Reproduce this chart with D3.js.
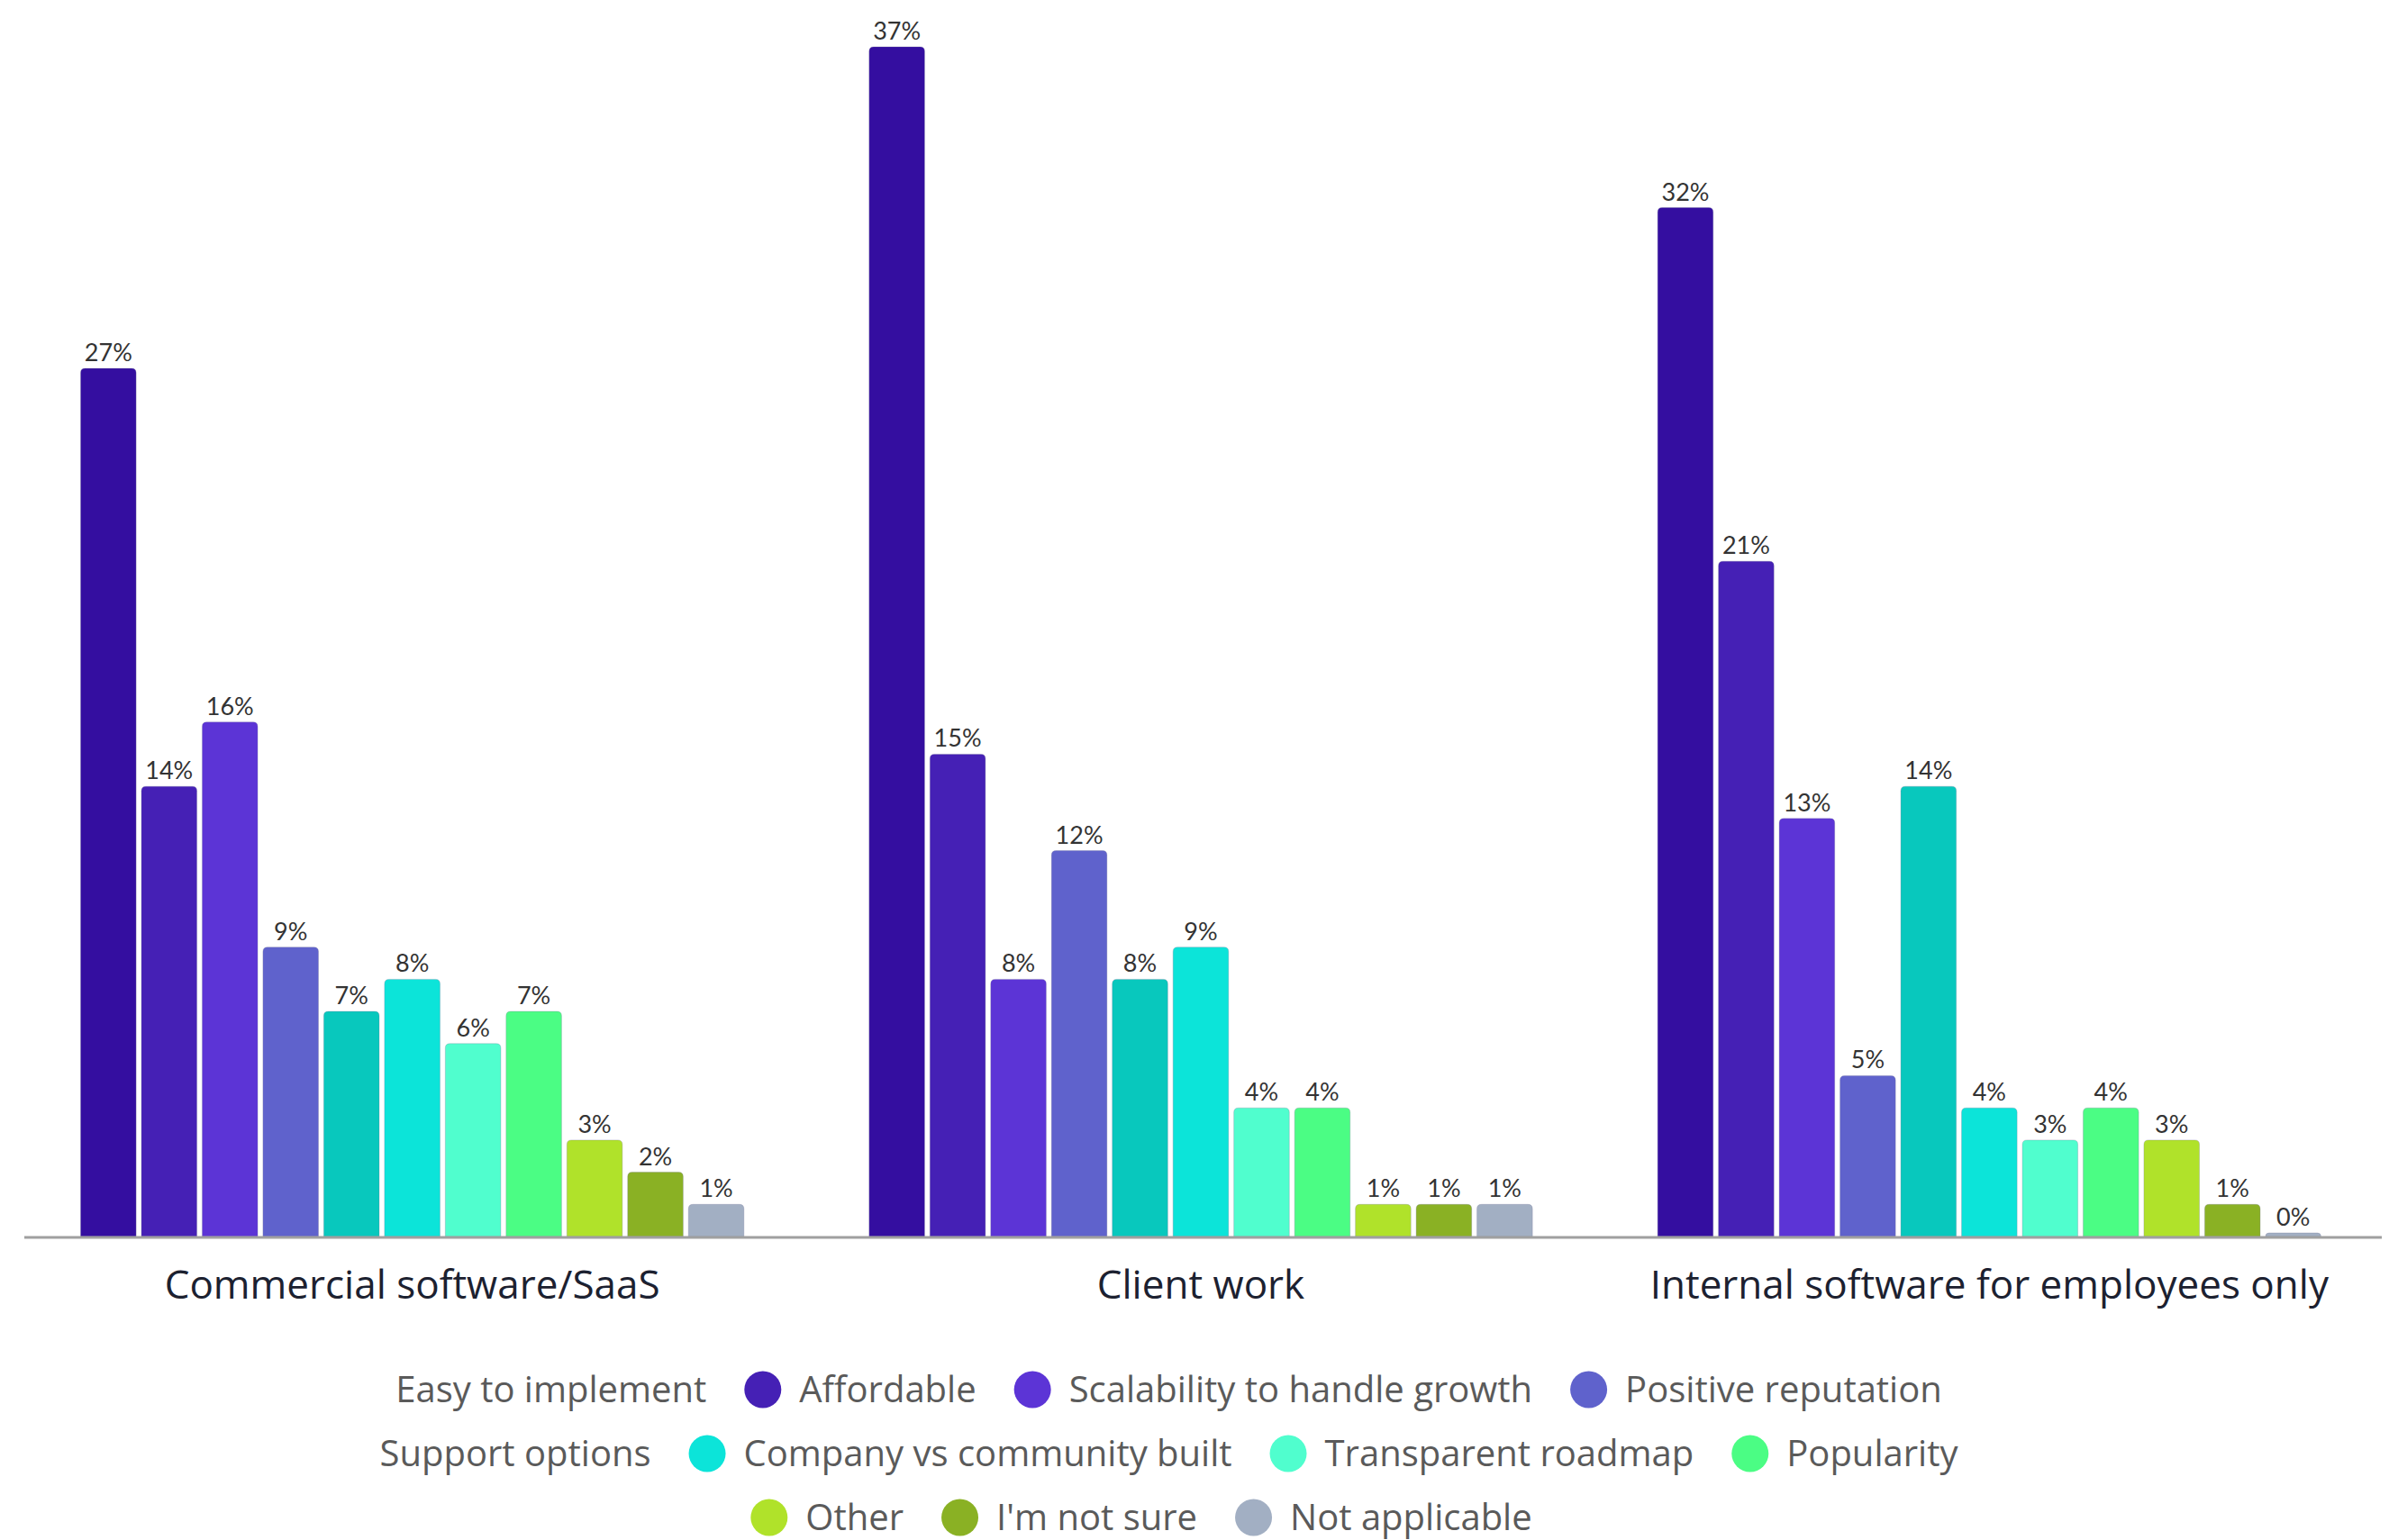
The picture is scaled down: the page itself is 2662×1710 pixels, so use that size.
<!DOCTYPE html>
<html>
<head>
<meta charset="utf-8">
<script src="https://cdn.jsdelivr.net/npm/d3@7"></script>
<style>
  html, body { margin: 0; padding: 0; background: #ffffff; }
  svg { display: block; }
</style>
</head>
<body>
<svg id="chart" width="2662" height="1710"></svg>
<script>
// Project types (x groups)
const categories = [
  "Commercial software/SaaS",
  "Client work",
  "Internal software for employees only"
];

// Selection criteria (one bar per criterion in each group)
const seriesNames = [
  "Easy to implement",
  "Affordable",
  "Scalability to handle growth",
  "Positive reputation",
  "Support options",
  "Company vs community built",
  "Transparent roadmap",
  "Popularity",
  "Other",
  "I'm not sure",
  "Not applicable"
];

const seriesColors = [
  "#340ea0", "#4520b5", "#5c34d6", "#5f62cc",
  "#08c8bd", "#0ce4d9", "#50fece", "#4bfd84",
  "#b0e22a", "#8ab124", "#a2afc3"
];

// Share of respondents (%) per project type, in seriesNames order
const valuesCommercial = [27, 14, 16, 9, 7, 8, 6, 7, 3, 2, 1];
const valuesClient     = [37, 15, 8, 12, 8, 9, 4, 4, 1, 1, 1];
const valuesInternal   = [32, 21, 13, 5, 14, 4, 3, 4, 3, 1, 0];

// Legend entries drawn as plain text without a swatch
const swatchless = ["Easy to implement", "Support options"];

const valuesByCategory = [valuesCommercial, valuesClient, valuesInternal];

const svg = d3.select("#chart");

const baseY = 1373, topY = 52;
const plotLeft = 27, plotRight = 2644;

const x0 = d3.scaleBand().domain(categories).range([20, 2646]).padding(0);
const x1 = d3.scaleBand().domain(seriesNames)
  .range([0, x0.bandwidth()])
  .paddingInner(0.087)
  .paddingOuter(1.03);
const y = d3.scaleLinear().domain([0, 37]).range([baseY, topY]);
const color = d3.scaleOrdinal().domain(seriesNames).range(seriesColors);

const rows = categories.map((c, i) => ({
  category: c,
  bars: seriesNames.map((s, j) => ({ series: s, value: valuesByCategory[i][j] }))
}));

// Bar with rounded top corners
function barPath(x, w, yTop, yBottom, r) {
  const h = yBottom - yTop;
  const rr = Math.min(r, h, w / 2);
  return `M${x},${yBottom}V${yTop + rr}Q${x},${yTop} ${x + rr},${yTop}` +
         `H${x + w - rr}Q${x + w},${yTop} ${x + w},${yTop + rr}V${yBottom}Z`;
}

const minBar = 4;

const groups = svg.append("g").selectAll("g.group")
  .data(rows)
  .join("g")
  .attr("class", "group")
  .attr("transform", d => `translate(${x0(d.category)},0)`);

groups.selectAll("path.bar")
  .data(d => d.bars)
  .join("path")
  .attr("class", "bar")
  .attr("d", d => {
    const yt = Math.min(y(d.value), baseY - minBar);
    return barPath(x1(d.series), x1.bandwidth(), yt, baseY, 5);
  })
  .attr("fill", d => color(d.series))
  .attr("stroke", "#7a7a9a")
  .attr("stroke-opacity", 0.3)
  .attr("stroke-width", 1);

groups.selectAll("text.val")
  .data(d => d.bars)
  .join("text")
  .attr("class", "val")
  .attr("x", d => x1(d.series) + x1.bandwidth() / 2)
  .attr("y", d => Math.min(y(d.value), baseY - minBar) - 8)
  .attr("text-anchor", "middle")
  .attr("font-family", "Lato, 'Open Sans', sans-serif")
  .attr("font-size", 27)
  .attr("fill", "#333333")
  .text(d => d.value + "%");

// Baseline
svg.append("line")
  .attr("x1", plotLeft).attr("x2", plotRight)
  .attr("y1", baseY + 1).attr("y2", baseY + 1)
  .attr("stroke", "#a0a0a0")
  .attr("stroke-width", 3);

// Category axis labels
const xAxis = d3.axisBottom(x0).tickSize(0).tickPadding(0);
const axisG = svg.append("g")
  .attr("transform", `translate(0,${baseY})`)
  .call(xAxis);
axisG.select(".domain").remove();
axisG.selectAll("text")
  .attr("y", 69)
  .attr("dy", null)
  .attr("font-family", "'Open Sans', sans-serif")
  .attr("font-size", 44)
  .attr("fill", "#1c2130");

// Legend: items flow into centred rows
const legendCenter = 1267;
const legendMaxWidth = 1950;
const legendRowY = [1543, 1614, 1685];
const swR = 20.5, swGap = 20, itemGap = 42;

const legend = svg.append("g").attr("class", "legend");
const items = legend.selectAll("g.item")
  .data(seriesNames)
  .join("g")
  .attr("class", "item");

items.append("circle")
  .attr("r", swR)
  .attr("cx", swR)
  .attr("cy", 0)
  .attr("fill", d => swatchless.includes(d) ? "none" : color(d));

items.append("text")
  .attr("x", swR * 2 + swGap)
  .attr("y", 0)
  .attr("dy", "0.35em")
  .attr("font-family", "'Open Sans', sans-serif")
  .attr("font-size", 40)
  .attr("fill", "#5a5a5a")
  .text(d => d);

const widths = [];
items.each(function() {
  const t = d3.select(this).select("text").node().getComputedTextLength();
  widths.push(swR * 2 + swGap + t);
});

const legendRows = [];
let cur = [], curW = 0;
widths.forEach((w, i) => {
  const add = cur.length ? itemGap + w : w;
  if (cur.length && curW + add > legendMaxWidth) {
    legendRows.push({ idx: cur, width: curW });
    cur = [i]; curW = w;
  } else {
    cur.push(i); curW += add;
  }
});
if (cur.length) legendRows.push({ idx: cur, width: curW });

const positions = [];
legendRows.forEach((r, ri) => {
  let xx = legendCenter - r.width / 2;
  r.idx.forEach(i => {
    positions[i] = [xx, legendRowY[ri]];
    xx += widths[i] + itemGap;
  });
});
items.attr("transform", (d, i) => `translate(${positions[i][0]},${positions[i][1]})`);
</script>
</body>
</html>
